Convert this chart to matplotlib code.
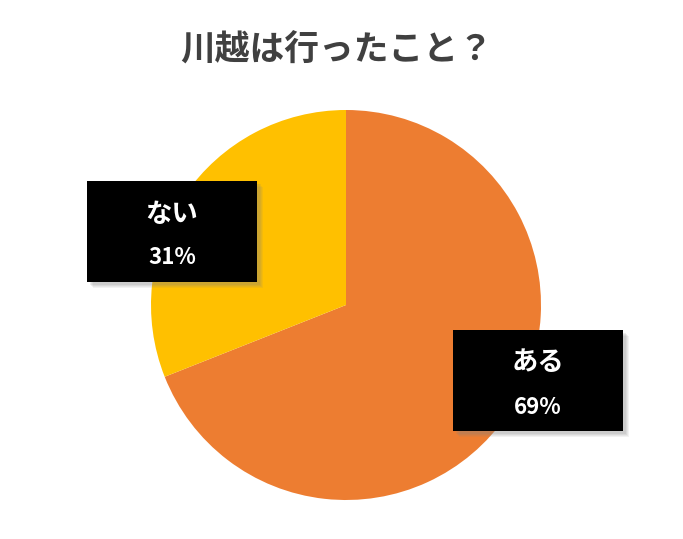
import matplotlib
matplotlib.use('Agg')
import matplotlib.pyplot as plt
from matplotlib.patches import Rectangle

plt.rcParams['font.family'] = ['Noto Sans CJK JP', 'DejaVu Sans']

title = '川越は行ったこと？'
labels = ['ある', 'ない']
values = [69, 31]
colors = ['#ED7D31', '#FFC000']

W, H = 683, 539
fig = plt.figure(figsize=(W / 100, H / 100), dpi=100)

# pie centre (346, 305) px from top-left, radius 195 px
cx, cy, r = 346, 305, 195
ax = fig.add_axes([(cx - r) / W, (H - cy - r) / H, 2 * r / W, 2 * r / H])
ax.pie(values, colors=colors, startangle=90, counterclock=False,
       wedgeprops={'linewidth': 0})
ax.set_xlim(-1, 1)
ax.set_ylim(-1, 1)
ax.set_aspect('equal')
ax.axis('off')

fig.text(337 / W, 1 - 50 / H, title, ha='center', va='center',
         fontsize=25, fontweight='bold', color='#404040')

# label boxes: centre in px (x, y from top)
box_pos = {'ある': (538, 380), 'ない': (172, 231)}
bw, bh = 170, 101

for lab, val in zip(labels, values):
    bx, by = box_pos[lab]
    x0 = (bx - bw / 2) / W
    y0 = 1 - (by + bh / 2) / H
    # soft shadow
    for i, a in enumerate([0.10, 0.10, 0.12, 0.14]):
        off = 6 - i
        fig.patches.append(Rectangle((x0 + off / W, y0 - off / H), bw / W, bh / H,
                                     transform=fig.transFigure, facecolor='gray',
                                     edgecolor='none', alpha=a, zorder=3))
    fig.patches.append(Rectangle((x0, y0), bw / W, bh / H, transform=fig.transFigure,
                                 facecolor='black', edgecolor='none', zorder=4))
    fig.text(bx / W, 1 - (by - 17) / H, lab, ha='center', va='center',
             fontsize=19, fontweight='bold', color='white', zorder=5)
    fig.text(bx / W, 1 - (by + 27) / H, f'{val}%', ha='center', va='center',
             fontsize=16, fontweight='bold', color='white', zorder=5)

fig.savefig('out.png', dpi=100)
